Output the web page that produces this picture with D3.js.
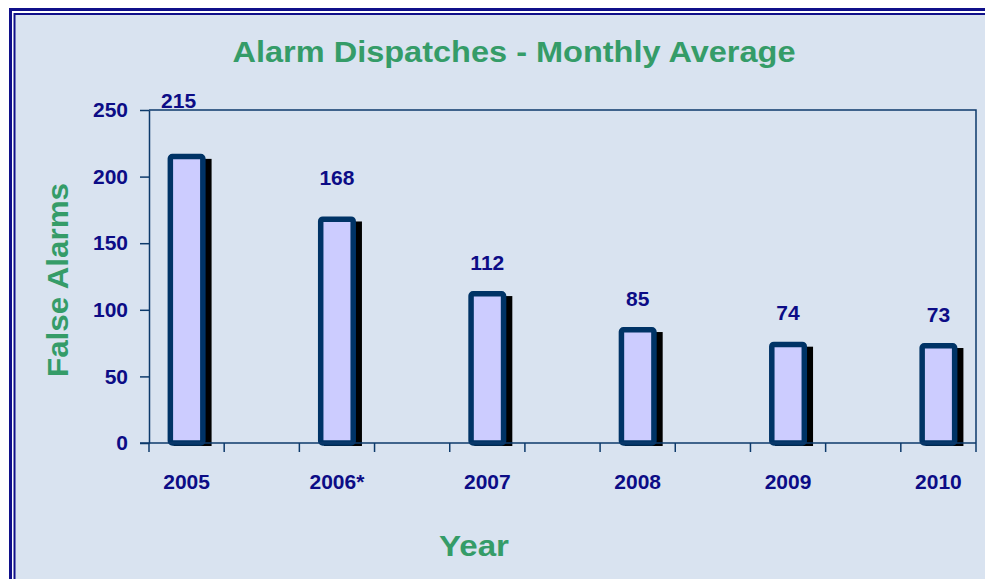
<!DOCTYPE html>
<meta charset="utf-8">
<html>
<head>
<script src="https://d3js.org/d3.v7.min.js"></script>
<style>
  body { margin: 0; background: #fff; }
  text { font-family: "Liberation Sans", Arial, sans-serif; font-weight: bold; }
</style>
</head>
<body>
<div id="my_dataviz"></div>
<script>

    // chart data
    var years = ["2005", "2006*", "2007", "2008", "2009", "2010"];
    var dispatches = [215, 168, 112, 85, 74, 73];
    var yTicks = [0, 50, 100, 150, 200, 250];

    var W = 985, H = 579;
    var plot = { left: 149, top: 110, right: 976, bottom: 443 };

    var navy = "#0c0c86", green = "#359c68", frame = "#0d3a6b";

    var svg = d3.select("#my_dataviz")
        .append("svg")
        .attr("width", W)
        .attr("height", H);

    // background + double border
    svg.append("rect").attr("x", 0).attr("y", 0).attr("width", W).attr("height", H).attr("fill", "#fff");
    svg.append("rect").attr("x", 10.5).attr("y", 9.5).attr("width", W + 20).attr("height", H + 20)
        .attr("fill", "none").attr("stroke", "#10108a").attr("stroke-width", 3);
    svg.append("rect").attr("x", 14.5).attr("y", 14).attr("width", W + 20).attr("height", H + 20)
        .attr("fill", "#d9e3f0").attr("stroke", "#10108a").attr("stroke-width", 2);

    // 11 slots: every year with an empty slot between
    var x = d3.scaleBand()
        .domain(d3.range(years.length * 2 - 1))
        .range([plot.left, plot.right]);

    var y = d3.scaleLinear()
        .domain([0, 250])
        .range([plot.bottom, plot.top]);

    var bars = years.map(function (yr, i) {
        return { year: yr, value: dispatches[i], cx: x(i * 2) + x.bandwidth() / 2 };
    });

    // plot frame (top and right)
    svg.append("path")
        .attr("d", "M" + plot.left + "," + plot.top + "H" + plot.right + "V" + plot.bottom)
        .attr("fill", "none").attr("stroke", frame).attr("stroke-width", 1.5);

    // y axis
    var yAxis = svg.append("g")
        .attr("transform", "translate(" + plot.left + ",0)")
        .call(d3.axisLeft(y).tickValues(yTicks).tickSize(9).tickSizeOuter(0).tickPadding(12));
    yAxis.select(".domain").attr("stroke", frame).attr("stroke-width", 1.5);
    yAxis.selectAll(".tick line").attr("stroke", frame).attr("stroke-width", 1.5);
    yAxis.selectAll(".tick text").attr("fill", navy).style("font-size", "21px")
        .style("font-family", "Liberation Sans").style("font-weight", "bold");

    // shadows
    var bw = 32.5, sw = 5.5;
    svg.selectAll("shadow")
        .data(bars)
        .enter()
        .append("rect")
        .attr("x", function (d) { return d.cx - bw / 2 - sw / 2 + 6; })
        .attr("y", function (d) { return y(d.value) - sw / 2 + 5; })
        .attr("width", bw + sw)
        .attr("height", function (d) { return y(0) + 3 - (y(d.value) - sw / 2 + 5); })
        .attr("fill", "#000");

    // bars
    svg.selectAll("bar")
        .data(bars)
        .enter()
        .append("rect")
        .attr("x", function (d) { return d.cx - bw / 2; })
        .attr("y", function (d) { return y(d.value); })
        .attr("width", bw)
        .attr("height", function (d) { return y(0) - y(d.value); })
        .attr("rx", 2)
        .attr("fill", "#ccccff")
        .attr("stroke", "#003366")
        .attr("stroke-width", sw);

    // x axis line + slot ticks
    svg.append("line")
        .attr("x1", plot.left - 9).attr("x2", plot.right)
        .attr("y1", plot.bottom).attr("y2", plot.bottom)
        .attr("stroke", frame).attr("stroke-width", 1.5);
    svg.selectAll("xtick")
        .data(d3.range(years.length * 2))
        .enter()
        .append("line")
        .attr("x1", function (d) { return plot.left + d * x.step(); })
        .attr("x2", function (d) { return plot.left + d * x.step(); })
        .attr("y1", plot.bottom).attr("y2", plot.bottom + 9)
        .attr("stroke", frame).attr("stroke-width", 1.5);

    svg.selectAll("xlabel")
        .data(bars)
        .enter()
        .append("text")
        .attr("x", function (d) { return d.cx; })
        .attr("y", 489)
        .attr("text-anchor", "middle")
        .attr("fill", navy)
        .style("font-size", "21px")
        .text(function (d) { return d.year; });

    // value labels (first two were dragged higher in the original)
    var nudge = [[-8, -25], [0, -10]];
    svg.selectAll("vlabel")
        .data(bars)
        .enter()
        .append("text")
        .attr("x", function (d, i) { return d.cx + (nudge[i] ? nudge[i][0] : 0); })
        .attr("y", function (d, i) { return y(d.value) - 24 + (nudge[i] ? nudge[i][1] : 0); })
        .attr("text-anchor", "middle")
        .attr("fill", navy)
        .style("font-size", "21px")
        .text(function (d) { return d.value; });

    // titles
    svg.append("text")
        .attr("x", 514).attr("y", 62)
        .attr("text-anchor", "middle")
        .attr("textLength", 563)
        .attr("lengthAdjust", "spacingAndGlyphs")
        .attr("fill", green)
        .style("font-size", "29px")
        .text("Alarm Dispatches - Monthly Average");

    svg.append("text")
        .attr("transform", "translate(68,280) rotate(-90)")
        .attr("text-anchor", "middle")
        .attr("textLength", 194)
        .attr("lengthAdjust", "spacingAndGlyphs")
        .attr("fill", green)
        .style("font-size", "30px")
        .text("False Alarms");

    svg.append("text")
        .attr("x", 474).attr("y", 556)
        .attr("text-anchor", "middle")
        .attr("textLength", 70)
        .attr("lengthAdjust", "spacingAndGlyphs")
        .attr("fill", green)
        .style("font-size", "30px")
        .text("Year");

</script>
</body>
</html>
